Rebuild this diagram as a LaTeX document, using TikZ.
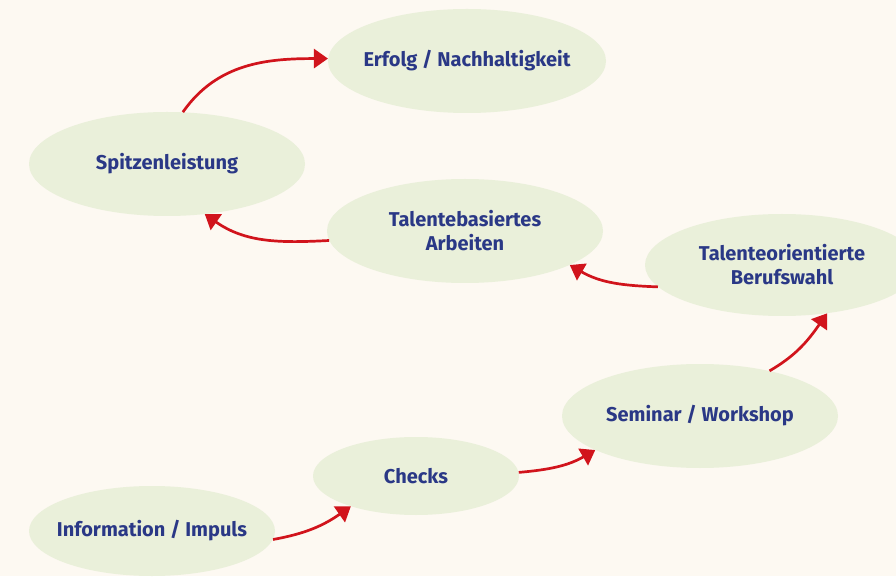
\documentclass[tikz,border=0pt]{standalone}
\usepackage{fontspec}
\setmainfont{Fira Sans}
\usepackage{xcolor}
\usepackage{tikz}
\usetikzlibrary{
  arrows.meta,
  shapes.geometric
}
\definecolor{bgcream}{HTML}{FDF9F2}
\definecolor{stagefill}{HTML}{EAF0DA}
\definecolor{stagetext}{HTML}{2A3886}
\definecolor{flowred}{HTML}{D1141C}

\begin{document}
\begin{tikzpicture}[
  x=1pt, y=1pt,
  stage/.style={ellipse, fill=stagefill, inner xsep=-40pt, inner ysep=0pt, align=center,
    text=stagetext, font=\bfseries\fontsize{20}{24}\selectfont},
  flow/.style={draw=flowred, line width=2.7pt, -{Triangle[length=14pt,width=19pt]}},
]
  % Background
  \fill[bgcream] (0,0) rectangle (896,576);
  \useasboundingbox (0,0) rectangle (896,576);

  % Stages
  \node[stage, minimum width=246, minimum height=90] (info) at (152,45) {Information / Impuls};
  \node[stage, minimum width=206, minimum height=78] (checks) at (416,100) {Checks};
  \node[stage, minimum width=276, minimum height=104] (seminar) at (700,160) {Seminar / Workshop};
  \node[stage, minimum width=274, minimum height=102] (beruf) at (782,311) {Talenteorientierte\\Berufswahl};
  \node[stage, minimum width=276, minimum height=104] (arbeit) at (465,345) {Talentebasiertes\\Arbeiten};
  \node[stage, minimum width=276, minimum height=104] (spitze) at (167,412) {Spitzenleistung};
  \node[stage, minimum width=278, minimum height=104] (erfolg) at (467,515) {Erfolg / Nachhaltigkeit};

  % Arrows
  \draw[flow] (info.-4) to[out=10, in=215] (checks.205);
  \draw[flow] (checks.2) to[out=5, in=210] (seminar.198);
  \draw[flow] (seminar.33) to[out=30, in=235] (beruf.-47);
  \draw[flow] (beruf.190) to[out=178, in=-30] (arbeit.-18);
  \draw[flow] (arbeit.184) to[out=183, in=-35] (spitze.-53);
  \draw[flow] (spitze.73) to[out=55, in=180] (erfolg.179);
\end{tikzpicture}
\end{document}
